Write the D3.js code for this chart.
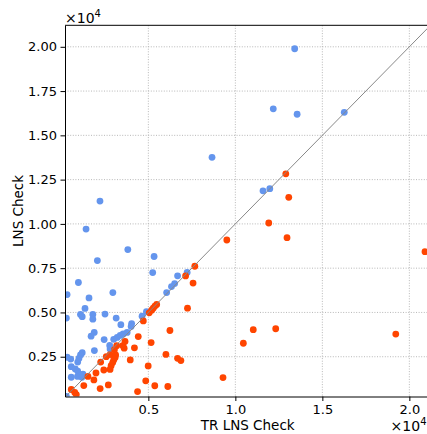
<!DOCTYPE html>
<html>
<head>
<meta charset="utf-8">
<script src="https://cdn.jsdelivr.net/npm/d3@7"></script>
<style>
  html, body { margin: 0; padding: 0; background: #fff; }
  svg { display: block; font-family: "DejaVu Sans", sans-serif; }
</style>
</head>
<body>
<svg id="chart" width="427" height="434"></svg>
<script>
// Points where LNS Check exceeds TR LNS Check
const blueX = [13410, 12180, 13550, 16260, 8660, 11590, 11980, 2220, 1420, 3820,
  5330, 2070, 5250, 7230, 6680, 980, 6510, 6330, 6050, 2960,
  330, 1590, 1360, 1100, 1200, 1810, 1810, 2510, 3150, 3420,
  4040, 4010, 4640, 4890, 290, 1890, 1710, 2460, 3010, 3210,
  3380, 3550, 3780, 2780, 2800, 1900, 1200, 1100, 1010, 940,
  330, 540, 570, 800, 940, 570, 930, 1240, 1180, 290];
const blueY = [19890, 16500, 16190, 16300, 13760, 11870, 11990, 11290, 9710, 8550,
  8160, 7930, 7250, 7260, 7070, 6690, 6630, 6460, 6120, 6120,
  6010, 5820, 5230, 4890, 4760, 4890, 4620, 4910, 4680, 4310,
  4370, 4210, 4790, 5050, 4680, 3870, 3660, 3470, 3480, 3590,
  3700, 3790, 3870, 3140, 2940, 2850, 2730, 2600, 2400, 2200,
  2470, 2370, 1940, 1810, 1690, 1340, 1390, 1520, 1340, 265];

// Points where TR LNS Check exceeds LNS Check
const redX = [12900, 13070, 11920, 9510, 12970, 20900, 11030, 12320, 10460, 19220, 9290,
  7670, 7140, 7570, 7250, 5480, 5380, 5280, 5190, 5050, 4710,
  6240, 4420, 5160, 4200, 3530, 3610, 3960, 6010, 6680, 6870,
  4990, 4850, 4380, 5370, 6120, 2700, 2230, 1290, 570, 770,
  860, 1530, 1870, 1990, 2260, 2580, 2800, 2860, 2950, 3010,
  3090, 3120, 2800, 2440, 3180, 3050, 3660];
const redY = [12830, 11500, 10050, 9090, 9220, 8430, 4030, 4080, 3260, 3780, 1320,
  7610, 7060, 6660, 5240, 5450, 5360, 5240, 5130, 4980, 4520,
  3980, 3640, 3300, 3000, 3130, 2980, 2320, 2630, 2410, 2280,
  1980, 1140, 530, 860, 820, 910, 700, 870, 650, 480,
  360, 1390, 1190, 1580, 2200, 2500, 2620, 1990, 2170, 2320,
  2460, 2600, 1780, 1750, 3120, 2900, 3360];

const xTicks = [5000, 10000, 15000, 20000];
const yTicks = [2500, 5000, 7500, 10000, 12500, 15000, 17500, 20000];
const offsetLabel = "×10";
const offsetPower = "4";

const svg = d3.select("#chart");
const pLeft = 65, pRight = 430.4, pTop = 25.3, pBottom = 396.5;

const x = d3.scaleLinear().domain([210, 21210]).range([pLeft, pRight]);
const y = d3.scaleLinear().domain([254, 21214]).range([pBottom, pTop]);

svg.append("defs").append("clipPath").attr("id", "plot-clip")
  .append("rect").attr("x", pLeft).attr("y", pTop)
  .attr("width", pRight - pLeft).attr("height", pBottom - pTop);

// dotted grid
const grid = svg.append("g").attr("stroke", "#b0b0b0").attr("stroke-width", 0.9)
  .attr("stroke-dasharray", "1,1.6");
grid.selectAll(".gx").data(xTicks).join("line")
  .attr("x1", d => x(d)).attr("x2", d => x(d)).attr("y1", pTop).attr("y2", pBottom);
grid.selectAll(".gy").data(yTicks).join("line")
  .attr("y1", d => y(d)).attr("y2", d => y(d)).attr("x1", pLeft).attr("x2", pRight);

const plot = svg.append("g").attr("clip-path", "url(#plot-clip)");

const blue = blueX.map((v, i) => [v, blueY[i]]);
const red = redX.map((v, i) => [v, redY[i]]);

plot.selectAll(".b").data(blue).join("circle")
  .attr("cx", d => x(d[0])).attr("cy", d => y(d[1])).attr("r", 3.4)
  .attr("fill", "#6495ed");
plot.selectAll(".r").data(red).join("circle")
  .attr("cx", d => x(d[0])).attr("cy", d => y(d[1])).attr("r", 3.4)
  .attr("fill", "#ff4500");

// identity line y = x
plot.append("line")
  .attr("x1", x(0)).attr("y1", y(0)).attr("x2", x(22000)).attr("y2", y(22000))
  .attr("stroke", "#888").attr("stroke-width", 1);

// axes
const fmtX = d => (d / 1e4).toFixed(1);
const fmtY = d => (d / 1e4).toFixed(2);

const xAxis = svg.append("g").attr("transform", `translate(0,${pBottom})`)
  .call(d3.axisBottom(x).tickValues(xTicks).tickFormat(fmtX).tickSize(4.5).tickPadding(3.5).tickSizeOuter(0));
const yAxis = svg.append("g").attr("transform", `translate(${pLeft},0)`)
  .call(d3.axisLeft(y).tickValues(yTicks).tickFormat(fmtY).tickSize(4.5).tickPadding(3.5).tickSizeOuter(0));

[xAxis, yAxis].forEach(a => {
  a.select(".domain").attr("stroke", "#000").attr("stroke-width", 1);
  a.selectAll(".tick line").attr("stroke", "#000").attr("stroke-width", 1);
  a.selectAll(".tick text").attr("fill", "#000").style("font-size", "13px")
    .style("font-family", "DejaVu Sans");
});

// top and right spines
svg.append("line").attr("x1", pLeft).attr("x2", pRight).attr("y1", pTop).attr("y2", pTop)
  .attr("stroke", "#000").attr("stroke-width", 1);
svg.append("line").attr("x1", pRight).attr("x2", pRight).attr("y1", pTop).attr("y2", pBottom)
  .attr("stroke", "#000").attr("stroke-width", 1);

// axis titles
svg.append("text").attr("x", (pLeft + pRight) / 2).attr("y", 429.5)
  .attr("text-anchor", "middle").style("font-size", "13.5px").text("TR LNS Check");
svg.append("text").attr("transform", `translate(23,${(pTop + pBottom) / 2}) rotate(-90)`)
  .attr("text-anchor", "middle").style("font-size", "13.5px").text("LNS Check");

// scale multipliers
function offsetText(xPos, yPos, anchor) {
  const t = svg.append("text").attr("x", xPos).attr("y", yPos)
    .attr("text-anchor", anchor).style("font-size", "14px");
  t.append("tspan").text(offsetLabel);
  t.append("tspan").attr("dy", -6).style("font-size", "10px").text(offsetPower);
}
offsetText(65, 23, "start");
offsetText(426.5, 430.5, "end");
</script>
</body>
</html>
